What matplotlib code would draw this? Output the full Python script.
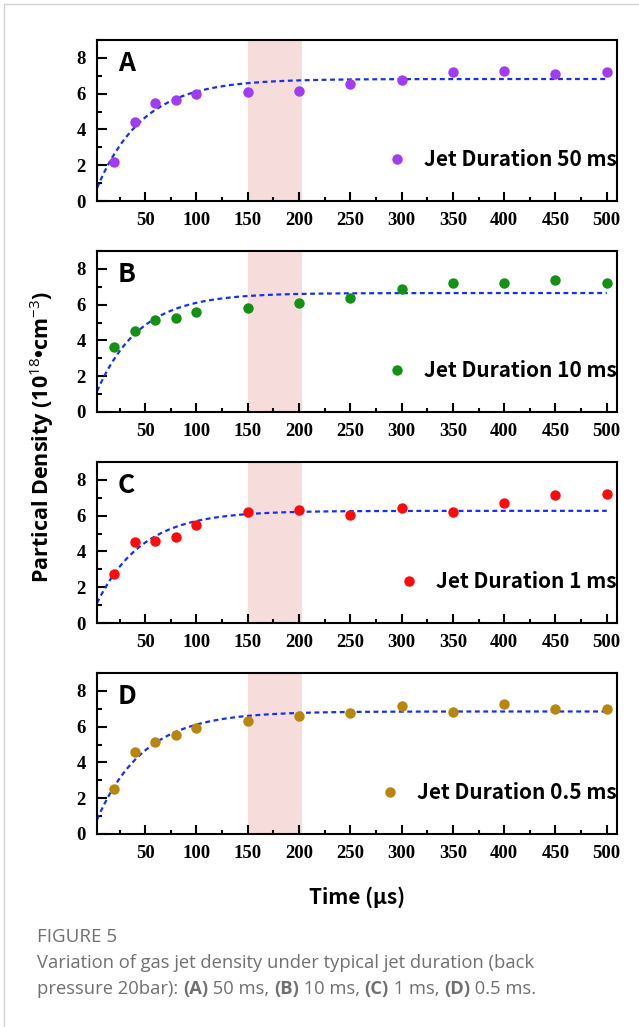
import numpy as np
import matplotlib
matplotlib.use("Agg")
import matplotlib.pyplot as plt
from matplotlib.ticker import MultipleLocator
from matplotlib.lines import Line2D

plt.rcParams['font.family'] = ['Noto Sans CJK SC', 'DejaVu Sans']
plt.rcParams['font.serif'] = ['Liberation Serif', 'Nimbus Roman', 'Times New Roman', 'DejaVu Serif']
plt.rcParams['mathtext.fontset'] = 'custom'
plt.rcParams['mathtext.rm'] = 'Open Sans'
plt.rcParams['mathtext.bf'] = 'Open Sans:bold'

# Measured points (time in us, density in 1e18 cm^-3)
time_us = [20, 40, 60, 80, 100, 150, 200, 250, 300, 350, 400, 450, 500]
density_a = [2.19, 4.39, 5.5, 5.67, 5.96, 6.07, 6.17, 6.52, 6.76, 7.19, 7.28, 7.11, 7.19]
density_b = [3.64, 4.54, 5.16, 5.23, 5.59, 5.81, 6.11, 6.37, 6.88, 7.2, 7.21, 7.38, 7.2]
density_c = [2.72, 4.52, 4.61, 4.82, 5.47, 6.23, 6.29, 6.01, 6.42, 6.23, 6.73, 7.13, 7.22]
density_d = [2.49, 4.56, 5.13, 5.54, 5.95, 6.34, 6.6, 6.79, 7.13, 6.81, 7.26, 6.98, 6.98]

# Exponential fit parameters: plateau, start value, tau
fit_plateau = [6.82, 6.65, 6.27, 6.85]
fit_start = [0.3, 0.75, 0.75, 0.4]
fit_tau = [45, 42, 44, 46]

panel_letters = ['A', 'B', 'C', 'D']
durations = ['50 ms', '10 ms', '1 ms', '0.5 ms']
colors = ['#A23CF2', '#139113', '#FF0A0A', '#B8860B']
series = [density_a, density_b, density_c, density_d]

x_ticks = [50, 100, 150, 200, 250, 300, 350, 400, 450, 500]
y_ticks = [0, 2, 4, 6, 8]

shade_start, shade_end = 150, 203

W, H = 639, 1027
fig = plt.figure(figsize=(W / 100, H / 100), dpi=100)

# light frame of the page
fig.add_artist(Line2D([4 / W, 4 / W], [0, 1 - 4 / H], color='#d4d4d4', lw=1))
fig.add_artist(Line2D([4 / W, 1], [1 - 4 / H, 1 - 4 / H], color='#d4d4d4', lw=1))

left, width = 97 / W, 520 / W
tops = [40, 251, 462, 673]
ax_h = 161

tick_font = dict(family='serif', fontweight='bold', fontsize=13.5)
x_fit = np.linspace(3, 500, 400)

for i, top in enumerate(tops):
    ax = fig.add_axes([left, 1 - (top + ax_h) / H, width, ax_h / H])
    ax.axvspan(shade_start, shade_end, color='#F7DCDC', lw=0, zorder=0)
    y_fit = fit_plateau[i] - (fit_plateau[i] - fit_start[i]) * np.exp(-x_fit / fit_tau[i])
    ax.plot(x_fit, y_fit, color='#1530F0', lw=1.6, ls=(0, (2.2, 1.6)), zorder=2)
    ax.plot(time_us, series[i], 'o', color=colors[i], ms=7.5, mec='none',
            label='Jet Duration ' + durations[i], zorder=3)
    ax.set_xlim(3, 510)
    ax.set_ylim(0, 9)
    ax.set_xticks(x_ticks, [str(v) for v in x_ticks], **tick_font)
    ax.set_yticks(y_ticks, [str(v) for v in y_ticks], **tick_font)
    ax.xaxis.set_minor_locator(MultipleLocator(50, offset=25))
    ax.yaxis.set_minor_locator(MultipleLocator(1))
    ax.tick_params(which='both', direction='in', width=1.5, top=False, right=False)
    ax.tick_params(axis='x', which='major', length=6.5, pad=8)
    ax.tick_params(axis='x', which='minor', length=2.8)
    ax.tick_params(axis='y', which='major', length=7, pad=8)
    ax.tick_params(axis='y', which='minor', length=3.8)
    for sp in ax.spines.values():
        sp.set_linewidth(1.5)
    ax.text(0.04, 0.855, panel_letters[i], transform=ax.transAxes, fontsize=19,
            fontweight='bold', ha='left', va='center')
    ax.legend(loc='center right', bbox_to_anchor=(1.0, 0.255), frameon=False,
              borderaxespad=0, borderpad=0, handlelength=0.6, handletextpad=1.0,
              numpoints=1, prop=dict(size=15, weight='bold'))

fig.text(42 / W, 1 - 437 / H, 'Partical Density (10$^{18}$•cm$^{-3}$)', rotation=90,
         ha='center', va='center', fontsize=15.5, fontweight='bold',
         family=['Open Sans', 'DejaVu Sans'])
fig.text(357 / W, 1 - 897 / H, 'Time (μs)', ha='center', va='center',
         fontsize=15, fontweight='bold')

# caption
cap = fig.add_axes([0, 0, 1, 1])
cap.set_axis_off()
cap.set_xlim(0, W)
cap.set_ylim(H, 0)
grey = '#707070'
cfont = 'Open Sans'
csize = 13.25
cap.text(37, 937, 'FIGURE 5', color=grey, family=cfont, fontsize=13.5, va='center')
cap.text(37, 963, 'Variation of gas jet density under typical jet duration (back',
         color=grey, family=cfont, fontsize=csize, va='center')
pieces = [('pressure 20bar): ', 'normal'), ('(A)', 'bold'), (' 50 ms, ', 'normal'),
          ('(B)', 'bold'), (' 10 ms, ', 'normal'), ('(C)', 'bold'),
          (' 1 ms, ', 'normal'), ('(D)', 'bold'), (' 0.5 ms.', 'normal')]
prev = cap.text(37, 989, pieces[0][0], color=grey, family=cfont, fontsize=csize,
                va='center', fontweight=pieces[0][1])
for txt, wt in pieces[1:]:
    prev = cap.annotate(txt, xy=(1, 0), xycoords=prev, va='bottom', ha='left',
                        color=grey, family=cfont, fontsize=csize, fontweight=wt)

fig.savefig('out.png', dpi=100)
